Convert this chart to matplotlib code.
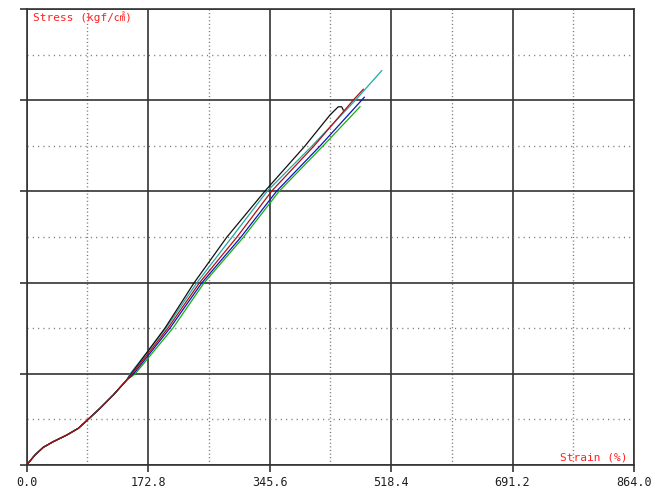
import matplotlib
matplotlib.use("Agg")
import matplotlib.pyplot as plt
from matplotlib.ticker import MultipleLocator, FixedLocator

# ---- data (strain %, stress) ----
common_x = [0.0, 2.3, 11.8, 23.6, 37.8, 56.9, 73.4, 85.4, 104.3, 123.2, 142.3]
common_y = [0.0, 1.1, 5.5, 9.7, 12.8, 16.4, 20.1, 24.3, 31.1, 38.4, 46.6]

levels_y = [49.9, 75.1, 99.8, 124.8, 150.2, 174.9]

black_x = [148.4, 196.8, 238.0, 284.5, 339.0, 395.9, 431.5, 443.3, 448.1, 450.4]
black_y = levels_y + [191.9, 196.4, 196.4, 194.6]

cyan_x = [146.9, 198.2, 241.9, 291.7, 342.3, 405.9, 467.9, 505.1]
cyan_y = levels_y + [200.1, 216.2]

red_x = [149.8, 201.0, 245.6, 298.8, 348.6, 408.7, 464.7, 478.9]
red_y = levels_y + [200.1, 206.0]

blue_x = [151.9, 203.9, 249.0, 304.5, 355.7, 417.3, 480.3]
blue_y = levels_y + [201.6]

green_x = [154.1, 208.1, 252.2, 308.2, 359.4, 421.5, 474.2]
green_y = levels_y + [196.4]

x_ticks = [0.0, 172.8, 345.6, 518.4, 691.2, 864.0]
x_tick_labels = ["0.0", "172.8", "345.6", "518.4", "691.2", "864.0"]

series = [
    ("green", green_x, green_y, "#10b010"),
    ("blue", blue_x, blue_y, "#1010c0"),
    ("cyan", cyan_x, cyan_y, "#20a8a8"),
    ("black", black_x, black_y, "#101010"),
    ("red", red_x, red_y, "#b01010"),
]

fig = plt.figure(figsize=(6.62, 4.88), dpi=100)
ax = fig.add_axes([26.7 / 662, 23 / 488, 607.3 / 662, 456 / 488])

ax.set_xlim(0, 864)
ax.set_ylim(0, 250)

ax.xaxis.set_major_locator(FixedLocator(x_ticks))
ax.xaxis.set_minor_locator(MultipleLocator(86.4))
ax.yaxis.set_major_locator(MultipleLocator(50))
ax.yaxis.set_minor_locator(MultipleLocator(25))

ax.grid(which="major", color="#333333", linewidth=1.2, linestyle="-")
ax.xaxis.grid(which="minor", color="#777777", linewidth=1.0, linestyle=(0, (0.8, 1.8)))
ax.yaxis.grid(which="minor", color="#777777", linewidth=1.0, linestyle=(0, (0.8, 3.0)))
ax.set_axisbelow(True)

for sp in ax.spines.values():
    sp.set_color("#333333")
    sp.set_linewidth(1.2)

ax.set_xticks(x_ticks)
ax.set_xticklabels(x_tick_labels, fontfamily="DejaVu Sans Mono", fontsize=8.5, color="#202020")
ax.set_yticklabels([])
ax.tick_params(which="major", direction="out", length=5, width=1.2, color="#333333", pad=3)
ax.tick_params(which="minor", length=0)

for name, xs, ys, col in series:
    ax.plot(common_x + xs, common_y + ys, color=col, linewidth=0.9, solid_joinstyle="round")

fig.text(33 / 662, 1 - 17 / 488, "Stress (kgf/\u33a0)", color="#ff2020",
         fontsize=8, va="center", ha="left",
         family=["DejaVu Sans Mono", "Noto Sans CJK JP"])
fig.text(627 / 662, 1 - 458 / 488, "Strain (%)", color="#ff2020",
         fontsize=8, va="center", ha="right", family=["DejaVu Sans Mono"])

fig.savefig("out.png", dpi=100)
